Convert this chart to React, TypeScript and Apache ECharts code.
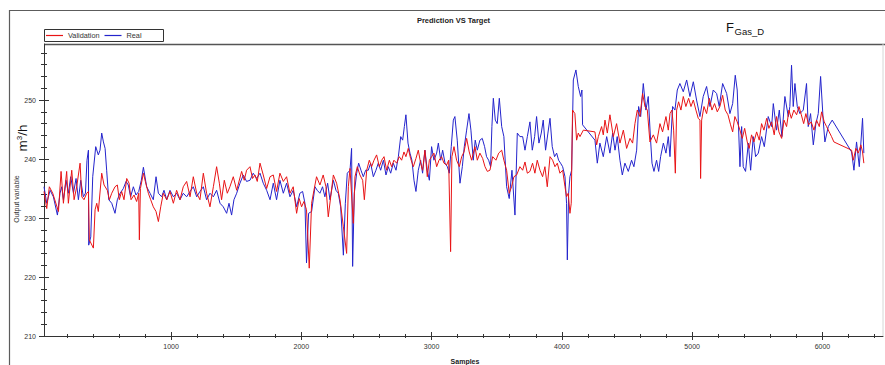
import React, { useEffect, useRef } from "react";
import * as echarts from "echarts";

// Axis tick positions
const xMajorTicks = [1000, 2000, 3000, 4000, 5000, 6000];
const yMajorTicks = [210, 220, 230, 240, 250];
const xRange = [25, 6465];
const yRange = [210, 259.5];

const legendNames = ["Validation", "Real"];

// [sample, output] pairs of the model prediction
const validationPoints: [number, number][] = [
  [25, 234.5], [46, 231.6], [66, 235.3], [92, 234.2], [136, 231.1], [156, 237.9], [174, 232.5], [199, 237.9],
  [212, 232.5], [238, 238.1], [256, 233.1], [276, 235.3], [302, 239.3], [315, 233.6], [332, 233.1], [353, 234.2],
  [366, 234.5], [373, 226.3], [404, 224.9], [417, 231.4], [430, 232.5], [442, 231.1], [468, 237.6], [486, 235.6],
  [511, 234.7], [527, 233.1], [545, 234.2], [570, 235.3], [588, 235.6], [603, 233.1], [621, 234.5], [639, 233.1],
  [660, 236.7], [678, 235.9], [693, 233.1], [716, 233.9], [736, 232.8], [752, 234.2], [757, 226.3], [765, 235.0],
  [788, 237.6], [803, 236.2], [826, 234.2], [844, 233.1], [864, 231.9], [885, 231.1], [903, 229.4], [921, 231.9],
  [941, 234.2], [967, 233.1], [992, 234.5], [1018, 232.5], [1043, 234.7], [1069, 233.1], [1094, 235.3], [1120, 236.2],
  [1146, 233.6], [1171, 237.0], [1197, 234.2], [1222, 233.1], [1248, 237.6], [1273, 234.2], [1299, 231.9], [1325, 235.3],
  [1350, 238.7], [1371, 235.9], [1388, 233.1], [1409, 236.4], [1432, 234.2], [1452, 235.3], [1478, 237.0], [1504, 234.7],
  [1542, 237.9], [1562, 236.4], [1580, 238.1], [1606, 238.7], [1626, 236.7], [1644, 237.3], [1662, 236.2], [1683, 239.3],
  [1708, 237.3], [1734, 235.0], [1760, 237.0], [1785, 237.3], [1810, 234.5], [1836, 237.6], [1862, 236.2], [1887, 237.0],
  [1913, 234.2], [1938, 235.3], [1964, 230.8], [1984, 233.3], [2002, 231.9], [2020, 232.8], [2040, 231.4], [2061, 221.5],
  [2079, 232.5], [2097, 234.7], [2117, 237.0], [2143, 235.6], [2168, 237.3], [2189, 235.3], [2207, 230.2], [2246, 237.3],
  [2271, 235.9], [2297, 233.1], [2323, 228.5], [2348, 224.0], [2361, 235.3], [2374, 238.4], [2399, 229.1], [2412, 237.0],
  [2430, 238.7], [2450, 237.3], [2471, 236.4], [2484, 233.1], [2502, 238.1], [2522, 239.8], [2540, 238.7], [2558, 239.8],
  [2578, 240.7], [2599, 238.7], [2617, 239.8], [2635, 240.4], [2655, 238.1], [2676, 239.8], [2693, 238.7], [2711, 239.8],
  [2732, 239.3], [2752, 240.4], [2770, 239.8], [2788, 241.2], [2803, 240.4], [2821, 241.8], [2839, 240.1], [2860, 238.7],
  [2880, 240.1], [2898, 241.5], [2916, 239.3], [2931, 238.1], [2949, 241.5], [2967, 237.0], [2983, 239.8], [3000, 240.4],
  [3018, 241.0], [3039, 238.7], [3057, 239.8], [3077, 240.4], [3095, 239.3], [3116, 239.0], [3131, 239.8], [3146, 224.3],
  [3156, 240.4], [3172, 242.1], [3192, 239.8], [3213, 238.7], [3231, 240.4], [3249, 241.2], [3269, 243.5], [3289, 241.2],
  [3307, 239.8], [3333, 242.1], [3351, 239.8], [3371, 241.0], [3392, 240.1], [3410, 238.7], [3428, 237.9], [3448, 238.1],
  [3469, 240.4], [3494, 239.8], [3515, 241.0], [3538, 241.5], [3555, 239.8], [3576, 238.1], [3596, 234.2], [3614, 235.3],
  [3632, 237.0], [3653, 237.3], [3678, 238.7], [3699, 238.1], [3717, 239.5], [3735, 237.6], [3755, 237.9], [3775, 239.3],
  [3793, 237.6], [3811, 239.8], [3832, 238.1], [3852, 237.0], [3870, 238.7], [3888, 235.3], [3909, 240.4], [3929, 239.8],
  [3947, 238.7], [3965, 239.3], [3985, 237.6], [4006, 238.1], [4024, 235.3], [4036, 233.6], [4049, 234.2], [4062, 230.8],
  [4072, 232.5], [4082, 248.3], [4100, 247.7], [4113, 243.2], [4126, 244.4], [4139, 243.8], [4165, 244.9], [4254, 244.6],
  [4267, 242.4], [4280, 243.8], [4305, 245.5], [4318, 244.1], [4331, 246.6], [4349, 244.4], [4369, 247.5], [4395, 243.8],
  [4420, 246.0], [4446, 242.7], [4472, 244.9], [4497, 241.8], [4523, 243.5], [4543, 242.7], [4561, 246.0], [4579, 248.3],
  [4599, 247.2], [4620, 251.1], [4638, 248.9], [4656, 248.3], [4676, 242.9], [4702, 244.1], [4727, 242.7], [4753, 246.0],
  [4773, 244.6], [4799, 247.2], [4817, 244.9], [4830, 247.7], [4845, 248.3], [4858, 244.9], [4871, 237.6], [4881, 248.3],
  [4896, 249.7], [4914, 248.3], [4932, 250.6], [4952, 248.9], [4973, 250.3], [4991, 248.9], [5009, 250.0], [5029, 248.3],
  [5047, 246.9], [5060, 246.6], [5065, 236.7], [5073, 246.6], [5091, 248.9], [5111, 247.7], [5132, 250.3], [5152, 248.3],
  [5172, 249.4], [5193, 248.0], [5213, 248.9], [5234, 250.8], [5254, 248.3], [5275, 247.5], [5295, 245.8], [5311, 244.6],
  [5328, 247.2], [5346, 246.3], [5367, 244.9], [5385, 243.5], [5403, 245.2], [5423, 242.9], [5438, 241.8], [5456, 244.1],
  [5474, 242.9], [5495, 244.6], [5515, 243.2], [5533, 246.0], [5551, 244.9], [5572, 246.9], [5589, 245.2], [5610, 246.3],
  [5630, 244.1], [5648, 247.2], [5666, 244.6], [5687, 243.5], [5705, 246.6], [5725, 245.5], [5743, 248.3], [5761, 246.9],
  [5781, 248.3], [5802, 247.5], [5820, 248.9], [5838, 247.5], [5856, 246.0], [5873, 247.7], [5894, 245.8], [5914, 246.3],
  [5935, 244.9], [5955, 246.6], [5976, 245.5], [5994, 248.0], [6014, 246.3], [6032, 245.5], [6052, 244.6], [6070, 243.8],
  [6088, 242.9], [6224, 241.5], [6237, 239.8], [6257, 241.8], [6275, 241.0], [6295, 242.4], [6308, 241.2], [6318, 239.3],
];

// [sample, output] pairs of the measured target
const realPoints: [number, number][] = [
  [25, 235.3], [46, 232.5], [72, 234.7], [97, 233.6], [128, 230.5], [148, 234.2], [161, 235.3], [174, 233.1],
  [194, 236.4], [212, 234.2], [230, 237.0], [251, 234.2], [271, 236.7], [289, 233.1], [307, 236.4], [327, 233.6],
  [343, 234.2], [355, 239.8], [366, 241.5], [368, 225.4], [384, 226.8], [399, 237.0], [422, 242.1], [442, 240.7],
  [455, 241.5], [468, 244.4], [481, 242.9], [494, 241.8], [506, 238.1], [522, 233.1], [545, 232.5], [570, 230.8],
  [588, 233.1], [609, 234.2], [634, 235.0], [655, 236.2], [672, 235.6], [690, 233.6], [711, 235.3], [731, 233.9],
  [752, 234.5], [772, 236.4], [788, 238.6], [813, 235.3], [839, 234.2], [864, 233.1], [885, 237.0], [903, 234.2],
  [928, 233.6], [946, 234.7], [967, 233.1], [992, 234.7], [1018, 233.6], [1043, 234.2], [1069, 233.1], [1094, 234.2],
  [1120, 233.6], [1146, 234.5], [1171, 235.3], [1197, 233.6], [1222, 234.5], [1248, 235.3], [1273, 233.1], [1299, 234.2],
  [1325, 233.6], [1350, 234.7], [1376, 232.5], [1401, 231.9], [1427, 230.8], [1445, 232.5], [1465, 230.5], [1483, 233.1],
  [1504, 234.2], [1529, 235.9], [1555, 237.3], [1580, 236.2], [1606, 236.4], [1631, 237.6], [1657, 236.7], [1683, 237.6],
  [1708, 235.9], [1734, 234.7], [1760, 233.1], [1785, 235.9], [1810, 233.1], [1836, 236.4], [1862, 234.2], [1887, 235.9],
  [1913, 233.6], [1938, 234.7], [1964, 231.9], [1989, 234.2], [2010, 234.5], [2028, 232.5], [2040, 222.4], [2056, 230.8],
  [2079, 231.1], [2105, 235.3], [2122, 234.7], [2143, 234.2], [2163, 235.3], [2181, 233.6], [2202, 235.9], [2220, 233.1],
  [2246, 236.4], [2266, 234.7], [2284, 234.2], [2302, 231.9], [2323, 223.7], [2338, 232.5], [2353, 237.6], [2374, 238.1],
  [2386, 241.8], [2394, 221.8], [2407, 234.2], [2425, 237.6], [2440, 239.3], [2458, 238.1], [2476, 237.0], [2494, 238.1],
  [2514, 238.1], [2532, 239.3], [2553, 237.0], [2573, 238.1], [2591, 239.3], [2609, 238.1], [2630, 239.8], [2650, 237.3],
  [2668, 238.7], [2686, 237.6], [2706, 239.3], [2727, 238.1], [2745, 240.4], [2763, 243.8], [2778, 243.2], [2791, 245.5],
  [2803, 247.5], [2819, 242.7], [2834, 241.0], [2849, 239.8], [2865, 236.4], [2880, 234.5], [2898, 238.1], [2916, 239.8],
  [2931, 237.6], [2949, 241.5], [2967, 238.1], [2983, 236.4], [3000, 242.1], [3018, 239.8], [3039, 241.0], [3052, 242.7],
  [3070, 239.8], [3085, 241.5], [3103, 239.3], [3121, 238.7], [3136, 237.6], [3151, 242.1], [3167, 246.6], [3179, 247.2],
  [3197, 243.2], [3218, 235.9], [3236, 238.7], [3251, 242.1], [3269, 244.9], [3287, 247.7], [3302, 244.9], [3320, 239.8],
  [3335, 243.2], [3351, 241.5], [3371, 243.2], [3389, 243.5], [3407, 242.1], [3422, 240.4], [3438, 239.8], [3453, 238.7],
  [3463, 245.5], [3474, 250.3], [3489, 246.6], [3504, 246.0], [3520, 250.3], [3538, 245.5], [3555, 243.8], [3576, 235.3],
  [3596, 233.3], [3617, 238.1], [3640, 230.5], [3658, 244.4], [3678, 243.8], [3699, 243.8], [3717, 241.5], [3735, 243.8],
  [3755, 246.3], [3773, 241.5], [3791, 243.8], [3806, 247.2], [3824, 242.7], [3842, 244.4], [3857, 246.6], [3875, 241.5],
  [3893, 244.4], [3909, 246.9], [3926, 242.1], [3944, 240.4], [3960, 241.0], [3975, 239.8], [3990, 239.3], [4006, 238.7],
  [4024, 237.0], [4036, 232.5], [4042, 222.9], [4052, 234.2], [4062, 237.0], [4075, 238.1], [4088, 253.4], [4108, 255.1],
  [4126, 252.3], [4144, 250.6], [4154, 251.7], [4159, 245.8], [4254, 243.2], [4272, 239.3], [4292, 242.7], [4318, 240.4],
  [4344, 243.8], [4369, 241.0], [4390, 244.4], [4408, 241.5], [4425, 243.8], [4446, 239.8], [4464, 237.3], [4484, 239.3],
  [4510, 237.9], [4535, 239.8], [4553, 238.7], [4574, 241.5], [4589, 248.9], [4605, 247.2], [4625, 252.8], [4645, 248.3],
  [4663, 250.6], [4681, 243.2], [4692, 239.3], [4707, 237.9], [4727, 239.8], [4743, 237.9], [4758, 240.4], [4779, 242.7],
  [4799, 241.0], [4817, 243.8], [4830, 240.4], [4850, 248.9], [4868, 248.3], [4886, 251.7], [4906, 252.8], [4932, 251.4],
  [4958, 253.4], [4983, 250.6], [5009, 253.1], [5034, 250.0], [5060, 247.2], [5085, 250.6], [5111, 252.3], [5137, 248.9],
  [5162, 251.7], [5188, 251.1], [5208, 248.9], [5234, 252.8], [5265, 251.1], [5290, 247.7], [5311, 249.4], [5331, 254.2],
  [5346, 251.7], [5367, 238.7], [5380, 245.5], [5392, 238.7], [5410, 237.9], [5431, 242.7], [5449, 238.1], [5469, 243.8],
  [5487, 240.4], [5508, 241.0], [5533, 243.8], [5554, 242.1], [5584, 247.2], [5610, 245.5], [5623, 249.4], [5648, 244.9],
  [5669, 248.3], [5689, 243.8], [5712, 250.6], [5738, 247.2], [5750, 248.9], [5763, 255.9], [5776, 248.9], [5789, 252.8],
  [5807, 248.9], [5827, 247.7], [5853, 248.3], [5878, 252.8], [5891, 245.5], [5909, 247.7], [5930, 242.4], [5950, 246.0],
  [5968, 247.7], [5986, 254.0], [6006, 246.6], [6019, 242.9], [6045, 245.5], [6075, 246.6], [6224, 241.2], [6242, 238.1],
  [6262, 242.9], [6283, 238.7], [6308, 246.9], [6318, 241.0],
];

const FONT = "'Liberation Sans', Arial, Helvetica, sans-serif";
const RED = "#e81416";
const BLUE = "#2424cc";
const INK = "#333333";

const plainNumber = (v: number) => String(v);

export default function App() {
  const ref = useRef<HTMLDivElement>(null);

  useEffect(() => {
    if (!ref.current) return;
    const chart = echarts.init(ref.current, null, { renderer: "svg" });

    const tickStyle = { color: INK, width: 1 };

    const makeX = (inside: boolean) => ({
      type: "value",
      gridIndex: 0,
      position: "bottom",
      min: xRange[0],
      max: xRange[1],
      axisLine: { show: !inside, onZero: false, lineStyle: { color: INK, width: 1 } },
      axisTick: { show: true, inside, length: 4, customValues: xMajorTicks, lineStyle: tickStyle },
      minorTick: { show: true, splitNumber: 5, length: 2, lineStyle: tickStyle },
      axisLabel: {
        show: !inside,
        customValues: xMajorTicks,
        formatter: plainNumber,
        fontSize: 7,
        color: INK,
        margin: 7,
        fontFamily: FONT,
      },
      splitLine: { show: false },
      minorSplitLine: { show: false },
    });

    const makeY = (inside: boolean) => ({
      type: "value",
      gridIndex: 0,
      position: "left",
      min: yRange[0],
      max: yRange[1],
      axisLine: { show: !inside, onZero: false, lineStyle: { color: INK, width: 1 } },
      axisTick: { show: true, inside, length: 5, customValues: yMajorTicks, lineStyle: tickStyle },
      minorTick: { show: true, splitNumber: 5, length: 3, lineStyle: tickStyle },
      axisLabel: {
        show: !inside,
        customValues: yMajorTicks,
        formatter: plainNumber,
        fontSize: 7,
        color: INK,
        margin: 8,
        fontFamily: FONT,
      },
      splitLine: { show: false },
      minorSplitLine: { show: false },
    });

    chart.setOption({
      animation: false,
      backgroundColor: "#ffffff",
      textStyle: { fontFamily: FONT },
      grid: { left: 44, right: 2, top: 44, bottom: 29, containLabel: false },
      xAxis: [makeX(false), makeX(true)],
      yAxis: [makeY(false), makeY(true)],
      legend: {
        data: legendNames.map((name) => ({ name, icon: "rect" })),
        left: 44,
        top: 30,
        padding: [1, 2, 1, 2],
        itemGap: 5,
        itemWidth: 17,
        itemHeight: 1.2,
        textStyle: { fontSize: 7.3, color: INK, fontFamily: FONT, lineHeight: 9 },
        selectedMode: false,
      },
      series: [
        {
          type: "line",
          name: "Real",
          data: realPoints,
          symbol: "none",
          lineStyle: { color: BLUE, width: 1 },
          itemStyle: { color: BLUE },
          z: 2,
        },
        {
          type: "line",
          name: "Validation",
          data: validationPoints,
          symbol: "none",
          lineStyle: { color: RED, width: 1 },
          itemStyle: { color: RED },
          z: 3,
        },
      ],
      graphic: [
        // outer frame
        { type: "line", shape: { x1: 9, y1: 10.5, x2: 885, y2: 10.5 }, style: { stroke: "#5c5c5c", lineWidth: 1.2 } },
        { type: "line", shape: { x1: 9.5, y1: 10, x2: 9.5, y2: 365 }, style: { stroke: "#5c5c5c", lineWidth: 1.2 } },
        // plot border (top and right)
        { type: "line", shape: { x1: 44, y1: 44.5, x2: 885, y2: 44.5 }, style: { stroke: "#555555", lineWidth: 1.4 } },
        { type: "line", shape: { x1: 883, y1: 44, x2: 883, y2: 336 }, style: { stroke: "#d6d6d6", lineWidth: 1 } },
        // legend frame
        {
          type: "rect",
          shape: { x: 44.5, y: 29.5, width: 119, height: 12 },
          style: { fill: "none", stroke: "#333333", lineWidth: 1 },
          silent: true,
        },
        {
          type: "text",
          x: 453.5,
          y: 20,
          style: {
            text: "Prediction VS Target",
            fontSize: 7.5,
            fontWeight: "bold",
            fontFamily: FONT,
            fill: "#222222",
            align: "center",
            verticalAlign: "middle",
          },
        },
        {
          type: "text",
          x: 726,
          y: 27.5,
          style: { text: "F", fontSize: 13, fontFamily: FONT, fill: "#111111", align: "left", verticalAlign: "middle" },
        },
        {
          type: "text",
          x: 734.5,
          y: 31,
          style: { text: "Gas_D", fontSize: 9.5, fontFamily: FONT, fill: "#111111", align: "left", verticalAlign: "middle" },
        },
        {
          type: "text",
          x: 22.5,
          y: 138,
          rotation: Math.PI / 2,
          style: {
            text: "{m|m}{s|3}{m|/h}",
            align: "center",
            verticalAlign: "middle",
            fill: "#111111",
            rich: {
              m: { fontSize: 13.5, fontFamily: FONT, fill: "#111111" },
              s: { fontSize: 8, fontFamily: FONT, fill: "#111111", verticalAlign: "top" },
            },
          },
        },
        {
          type: "text",
          x: 16.5,
          y: 199,
          rotation: Math.PI / 2,
          style: {
            text: "Output variable",
            fontSize: 7,
            fontFamily: FONT,
            fill: INK,
            align: "center",
            verticalAlign: "middle",
          },
        },
        {
          type: "text",
          x: 465,
          y: 361,
          style: {
            text: "Samples",
            fontSize: 7,
            fontWeight: "bold",
            fontFamily: FONT,
            fill: "#222222",
            align: "center",
            verticalAlign: "middle",
          },
        },
      ],
    });

    return () => chart.dispose();
  }, []);

  return (
    <div
      ref={ref}
      style={{ position: "absolute", left: 0, top: 0, width: 885, height: 365, background: "#ffffff" }}
    />
  );
}
